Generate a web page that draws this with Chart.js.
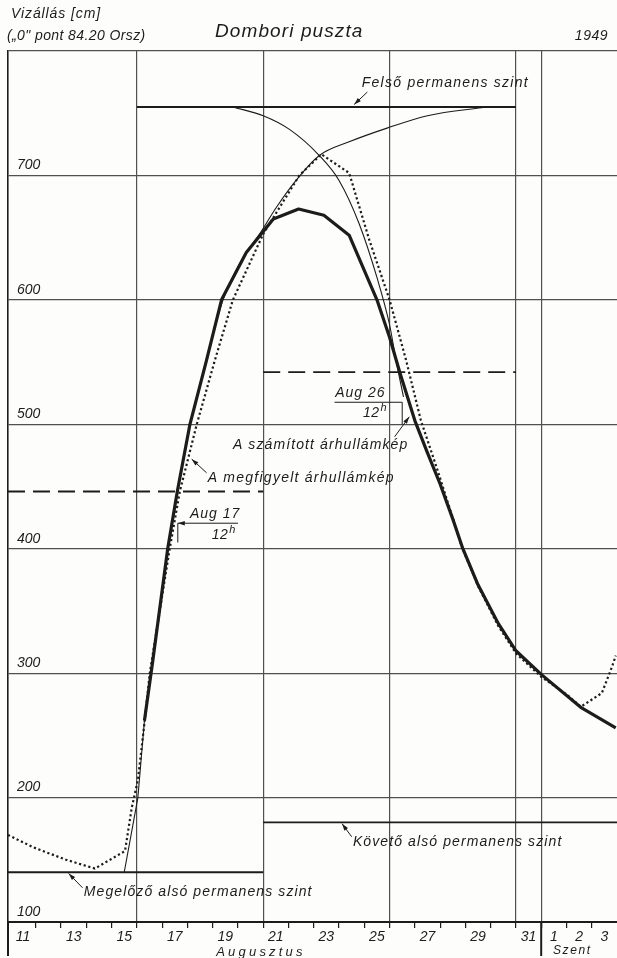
<!DOCTYPE html>
<html>
<head>
<meta charset="utf-8">
<script src="https://cdn.jsdelivr.net/npm/chart.js@4.4.1/dist/chart.umd.min.js"></script>
<style>
  html, body { margin: 0; padding: 0; background: #fdfdfb; }
  #wrap { width: 617px; height: 958px; }
</style>
</head>
<body>
<div id="wrap"><canvas id="myChart" width="617" height="958"></canvas></div>
<script>
// days: Aug 16 0h = 16, Sep 1 = 32
const xStart = 10.9, xEnd = 35;
const yStart = 100, yEnd = 800;

const dayTicks = [11,12,13,14,15,16,17,18,19,20,21,22,23,24,25,26,27,28,29,30,31,32,33,34,35];
const gridDays = [16, 21, 26, 31, 32];
const labelDays = [11, 13, 15, 17, 19, 21, 23, 25, 27, 29, 31, 32, 33, 34];
const labelTexts = ['11','13','15','17','19','21','23','25','27','29','31','1','2','3'];

// permanens szintek es segedvonalak
const upperDays = [16, 31];      const upperLevel = 755;
const prevLowDays = [10.9, 21];  const prevLowLevel = 140;
const nextLowDays = [21, 35];    const nextLowLevel = 180;
const riseDashDays = [10.9, 21]; const riseDashLevel = 446;
const fallDashDays = [21, 31];   const fallDashLevel = 542;

// szamitott arhullamkep (vastag)
const calcDays   = [15.5, 16.04, 16.3, 16.63, 17.22, 17.6, 18.1, 18.75, 19.35, 20.33, 21.4, 22.4, 23.4, 24.4, 25.5, 26.0, 26.4, 27.0, 27.5, 28.0, 28.5, 28.9, 29.5, 30.3, 31.0, 32.0, 33.6, 34.95];
const calcLevels = [140, 200, 262, 310, 400, 446, 500, 551, 600, 638, 665, 673, 668, 652, 600, 570, 542, 503, 477, 452, 424, 400, 371, 340, 318, 299, 272, 256];

// megfigyelt arhullamkep (pontozott)
const obsDays   = [10.9, 11.9, 13.2, 14.34, 15.53, 15.8, 16.04, 16.3, 16.51, 17.3, 17.7, 18.37, 19.08, 19.8, 21.0, 22.43, 23.3, 24.4, 25.2, 26.0, 26.66, 27.24, 27.9, 28.87, 29.5, 30.3, 31.0, 32.0, 33.0, 33.57, 34.4, 34.8, 34.95];
const obsLevels = [170, 160, 150, 143, 157, 192, 214, 260, 300, 400, 446, 500, 551, 600, 653, 700, 717, 702, 648, 600, 551, 503, 463, 401, 370, 338, 316, 297, 283, 273, 284, 305, 314];

// vekony burkologorbek
const fallDays   = [19.8, 21.0, 22.04, 23.22, 24.0, 24.8, 25.5, 26.0, 26.26, 26.55];
const fallLevels = [755, 748, 737, 716, 696, 661, 618, 580, 551, 522];
const riseDays   = [17.6, 18.1, 18.75, 19.41, 20.2, 20.86, 21.51, 22.3, 23.22, 24.4, 25.9, 27.5, 29.87];
const riseLevels = [446, 500, 551, 600, 634, 653, 674, 696, 716, 727, 738, 748, 755];

const levelTicks = [100, 200, 300, 400, 500, 600, 700, 800];

const ink = '#1c1c1c';
const gridInk = '#505050';
const FONT = '"Liberation Sans", Arial, sans-serif';

const pts = (xs, ys) => xs.map((x, i) => ({ x: x, y: Array.isArray(ys) ? ys[i] : ys }));

function txt(ctx, s, x, y, size, spacing, align) {
  ctx.font = `italic ${size}px ${FONT}`;
  ctx.letterSpacing = (spacing || 0) + 'px';
  ctx.textAlign = align || 'left';
  ctx.textBaseline = 'middle';
  ctx.fillText(s, x, y);
}

function line(ctx, x1, y1, x2, y2, w) {
  ctx.lineWidth = w || 1;
  ctx.beginPath(); ctx.moveTo(x1, y1); ctx.lineTo(x2, y2); ctx.stroke();
}

function arrow(ctx, x1, y1, x2, y2) {
  line(ctx, x1, y1, x2, y2, 1);
  const a = Math.atan2(y2 - y1, x2 - x1), L = 7, w = 2.2;
  ctx.beginPath();
  ctx.moveTo(x2, y2);
  ctx.lineTo(x2 - L * Math.cos(a) + w * Math.sin(a), y2 - L * Math.sin(a) - w * Math.cos(a));
  ctx.lineTo(x2 - L * Math.cos(a) - w * Math.sin(a), y2 - L * Math.sin(a) + w * Math.cos(a));
  ctx.closePath(); ctx.fill();
}

function twelveH(ctx, x, y) {
  txt(ctx, '12', x, y, 14, 0.5);
  const w = ctx.measureText('12').width;
  txt(ctx, 'h', x + w + 1, y - 5, 11, 0);
}

const feliratok = {
  id: 'feliratok',
  beforeDraw(c) {
    const ctx = c.ctx;
    ctx.save();
    ctx.fillStyle = '#fdfdfb';
    ctx.fillRect(0, 0, c.width, c.height);
    ctx.restore();
  },
  afterDraw(c) {
    const ctx = c.ctx;
    const X = v => c.scales.x.getPixelForValue(v);
    const Y = v => c.scales.y.getPixelForValue(v);
    const area = c.chartArea;
    ctx.save();
    ctx.fillStyle = ink;
    ctx.strokeStyle = ink;

    // fejlec
    txt(ctx, 'Vizállás [cm]', 11, 14, 14, 0.9);
    txt(ctx, '(„0" pont 84.20 Orsz)', 7, 36, 14, 0.4);
    txt(ctx, 'Dombori puszta', 215, 32, 19, 1.1);
    txt(ctx, '1949', 608, 36, 14, 0.5, 'right');

    // also tengely alatt
    line(ctx, area.left, area.bottom, area.left, 956, 2);
    line(ctx, X(32), area.bottom, X(32), 956, 2);
    txt(ctx, 'Augusztus', 261, 952, 13, 3.2, 'center');
    txt(ctx, 'Szent', 553, 951, 12, 1.6);

    // Felso permanens szint
    txt(ctx, 'Felső permanens szint', X(24.9), Y(774), 14, 1.25);
    arrow(ctx, X(25.12), Y(767), X(24.6), Y(757));

    // A szamitott arhullamkep
    txt(ctx, 'A számított árhullámkép', X(19.8), Y(483), 14, 1.1);
    arrow(ctx, X(26.2), Y(490), X(26.78), Y(506));

    // A megfigyelt arhullamkep
    txt(ctx, 'A megfigyelt árhullámkép', X(18.8), Y(457), 14, 1.25);
    arrow(ctx, X(18.76), Y(461), X(18.17), Y(472));

    // Aug 17 12h
    txt(ctx, 'Aug 17', X(18.1), Y(428), 14, 1);
    arrow(ctx, X(20.0), Y(420.5), X(17.62), Y(420.5));
    line(ctx, X(17.62), Y(420.5), X(17.62), Y(405), 1);
    twelveH(ctx, X(18.96), Y(411));

    // Aug 26 12h
    txt(ctx, 'Aug 26', X(23.85), Y(525), 14, 1);
    line(ctx, X(23.82), Y(517.7), X(26.5), Y(517.7), 1);
    line(ctx, X(26.5), Y(517.7), X(26.5), Y(500), 1);
    twelveH(ctx, X(24.95), Y(509));

    // Koveto also permanens szint
    txt(ctx, 'Követő alsó permanens szint', X(24.55), Y(164), 14, 1.1);
    arrow(ctx, X(24.5), Y(168.5), X(24.12), Y(179));

    // Megelozo also permanens szint
    txt(ctx, 'Megelőző alsó permanens szint', X(13.9), Y(124), 14, 1.1);
    arrow(ctx, X(13.85), Y(127.5), X(13.3), Y(139));

    ctx.restore();
  }
};

const thin = { borderColor: ink, borderWidth: 1.1, pointRadius: 0, showLine: true, fill: false };

const chart = new Chart(document.getElementById('myChart').getContext('2d'), {
  type: 'scatter',
  data: {
    datasets: [
      Object.assign({}, thin, { label: 'számított', data: pts(calcDays, calcLevels), tension: 0,
        borderWidth: 3.2, borderJoinStyle: 'round',
        segment: { borderWidth: ctx => ctx.p1DataIndex <= 2 ? 1.1 : 3.2 } }),
      Object.assign({}, thin, { label: 'megfigyelt', data: pts(obsDays, obsLevels), tension: 0,
        borderWidth: 2.2, borderDash: [2.2, 2.6] }),
      Object.assign({}, thin, { label: 'apadó', data: pts(fallDays, fallLevels), cubicInterpolationMode: 'monotone' }),
      Object.assign({}, thin, { label: 'áradó', data: pts(riseDays, riseLevels), cubicInterpolationMode: 'monotone' }),
      Object.assign({}, thin, { label: 'felső', data: pts(upperDays, upperLevel), borderWidth: 1.8 }),
      Object.assign({}, thin, { label: 'megelőző', data: pts(prevLowDays, prevLowLevel), borderWidth: 1.8 }),
      Object.assign({}, thin, { label: 'követő', data: pts(nextLowDays, nextLowLevel), borderWidth: 1.8 }),
      Object.assign({}, thin, { label: 'szaggatott1', data: pts(riseDashDays, riseDashLevel), borderWidth: 1.8, borderDash: [17, 8] }),
      Object.assign({}, thin, { label: 'szaggatott2', data: pts(fallDashDays, fallDashLevel), borderWidth: 1.8, borderDash: [17, 8] })
    ]
  },
  options: {
    responsive: false,
    animation: false,
    devicePixelRatio: 1,
    layout: { padding: { top: 51, left: 8, right: 0, bottom: 0 } },
    plugins: { legend: { display: false }, tooltip: { enabled: false } },
    scales: {
      x: {
        type: 'linear',
        min: xStart,
        max: xEnd,
        afterBuildTicks: s => { s.ticks = dayTicks.map(v => ({ value: v })); },
        afterFit: s => { s.height = 36; s.paddingLeft = 0; s.paddingRight = 0; },
        grid: {
          color: ctx => gridDays.includes(ctx.tick && ctx.tick.value) ? gridInk : 'rgba(0,0,0,0)',
          tickColor: ctx => (ctx.tick && (ctx.tick.value === 11 || ctx.tick.value === 35)) ? 'rgba(0,0,0,0)' : ink,
          lineWidth: 1.2,
          tickLength: 6
        },
        border: { display: true, color: ink, width: 2 },
        ticks: {
          autoSkip: false,
          maxRotation: 0,
          minRotation: 0,
          padding: 1,
          labelOffset: 12.6,
          color: ink,
          font: { family: FONT, size: 14, style: 'italic' },
          callback: v => { const i = labelDays.indexOf(v); return i >= 0 ? labelTexts[i] : ''; }
        }
      },
      y: {
        type: 'linear',
        min: yStart,
        max: yEnd,
        afterBuildTicks: s => { s.ticks = levelTicks.map(v => ({ value: v })); },
        afterFit: s => { s.width = 0; s.paddingTop = 0; s.paddingBottom = 0; },
        grid: { color: gridInk, lineWidth: 1.2, drawTicks: false },
        border: { display: true, color: ink, width: 1.6 },
        ticks: {
          mirror: true,
          padding: 9,
          labelOffset: -10,
          color: ink,
          font: { family: FONT, size: 14, style: 'italic' },
          callback: v => v === yEnd ? '' : String(v)
        }
      }
    }
  },
  plugins: [feliratok]
});
</script>
</body>
</html>
